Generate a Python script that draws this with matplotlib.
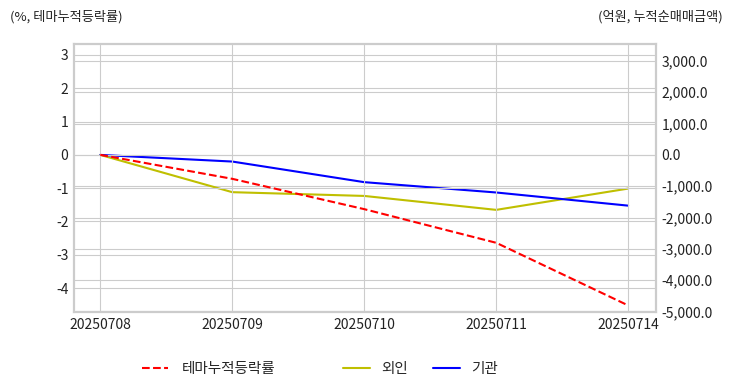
import matplotlib
matplotlib.use("Agg")
import matplotlib.pyplot as plt
from matplotlib.ticker import FuncFormatter

plt.style.use("seaborn-v0_8-whitegrid")
plt.rcParams['font.family'] = ['Noto Sans CJK KR', 'DejaVu Sans']
plt.rcParams['axes.unicode_minus'] = False

dates = ["20250708", "20250709", "20250710", "20250711", "20250714"]
theme_cum = [0.0, -0.72, -1.63, -2.64, -4.52]      # 테마누적등락률 (%)
foreign_cum = [0.0, -1190, -1310, -1755, -1075]    # 외인 (억원)
inst_cum = [0.0, -212, -870, -1200, -1620]         # 기관 (억원)

fig = plt.figure(figsize=(7.32, 3.92), dpi=100)
ax = fig.add_axes([0.101, 0.203, 0.795, 0.685])
ax2 = ax.twinx()

x = range(len(dates))
l1, = ax.plot(x, theme_cum, color="red", linestyle="--", linewidth=1.5, label="테마누적등락률")
l2, = ax2.plot(x, foreign_cum, color="#bfbf00", linewidth=1.5, label="외인")
l3, = ax2.plot(x, inst_cum, color="blue", linewidth=1.5, label="기관")

ax.set_xlim(-0.2, 4.21)
ax.set_ylim(-4.73, 3.33)
ax2.set_ylim(-5030, 3545)
ax.set_xticks(list(x))
ax.set_xticklabels(dates)
ax.set_yticks(range(-4, 4))
ax2.set_yticks(range(-5000, 3001, 1000))
ax2.yaxis.set_major_formatter(FuncFormatter(lambda v, p: f"{v:,.1f}"))

for a in (ax, ax2):
    a.grid(True, color="#cccccc", linewidth=0.8)
    a.tick_params(length=0, labelsize=10, colors="#222222", pad=4)
    for s in a.spines.values():
        s.set_color("#cccccc")
        s.set_linewidth(1.5)
ax2.grid(axis="x", visible=False)
ax2.patch.set_visible(False)
ax.patch.set_visible(False)
# 테마 라인이 오른쪽 축 그리드 위에 오도록
ax.set_zorder(ax2.get_zorder() + 1)

fig.text(0.013, 0.958, "(%, 테마누적등락률)", fontsize=9.5, color="#222222", va="center")
fig.text(0.987, 0.958, "(억원, 누적순매매금액)", fontsize=9.5, color="#222222", va="center", ha="right")

fig.legend(handles=[l1], loc="center left", bbox_to_anchor=(0.176, 0.058), frameon=False,
           fontsize=10.5, handlelength=1.8, handletextpad=0.9)
fig.legend(handles=[l2, l3], loc="center left", bbox_to_anchor=(0.451, 0.058), frameon=False,
           fontsize=10.5, ncol=2, handlelength=1.8, handletextpad=0.8, columnspacing=1.75)

fig.savefig("out.png", dpi=100)
